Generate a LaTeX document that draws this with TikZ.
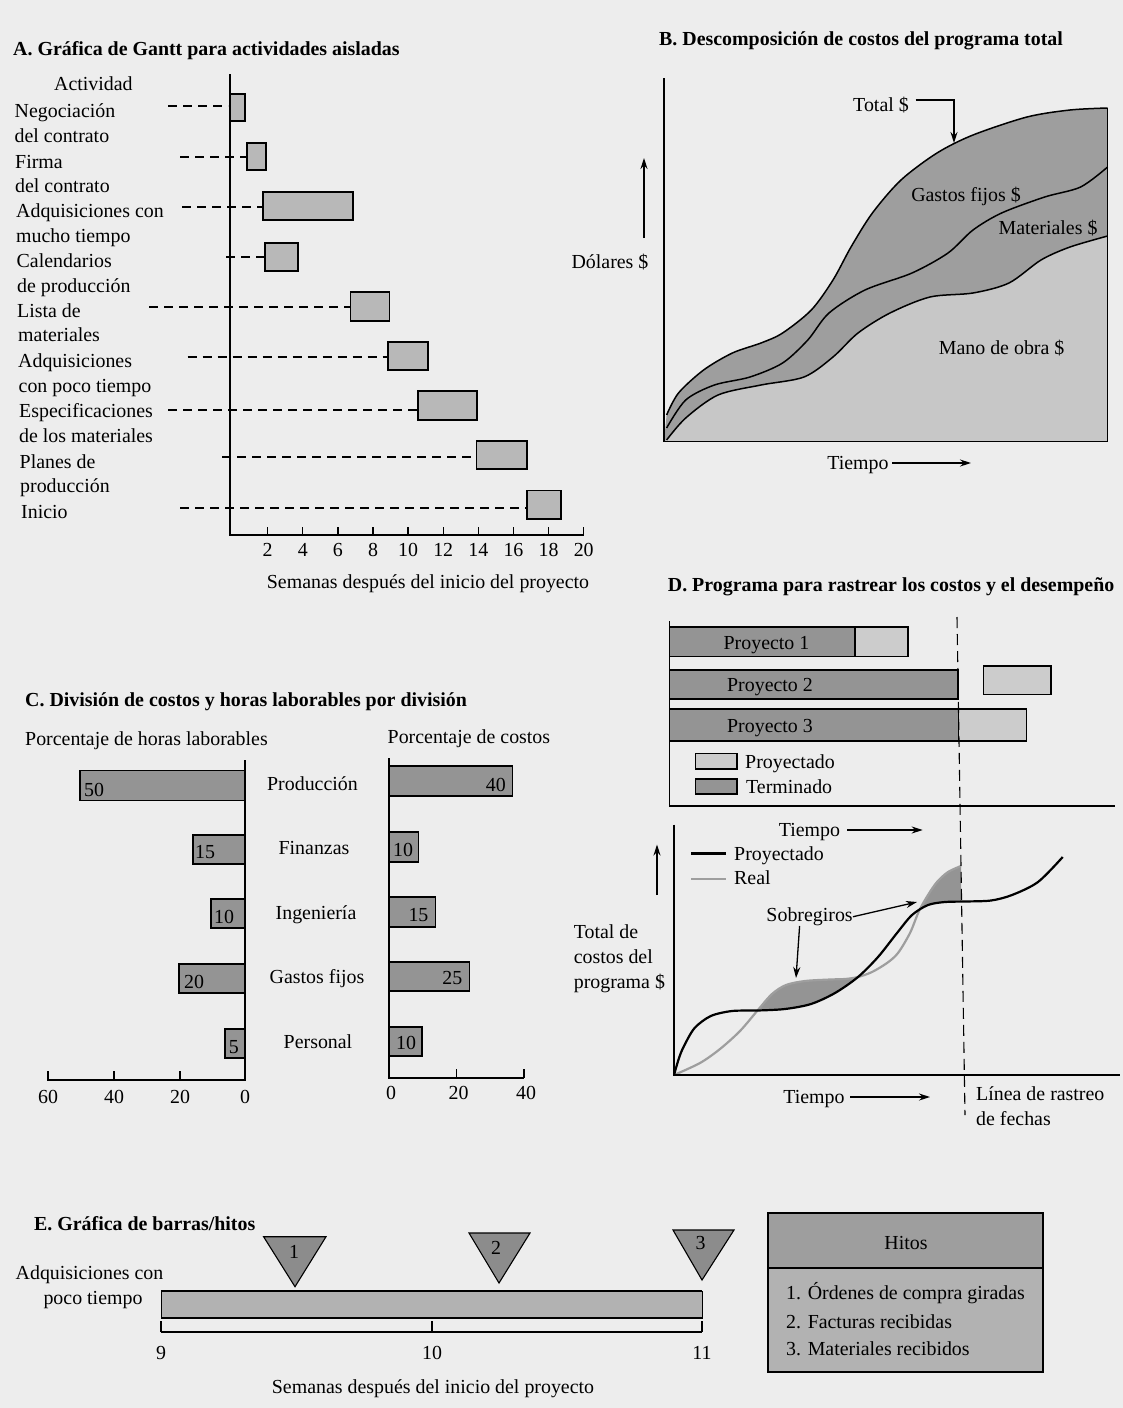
\documentclass[tikz,border=0pt]{standalone}
\usepackage{fontspec}
\setmainfont{Liberation Serif}
\usetikzlibrary{arrows.meta}
\definecolor{bgc}{gray}{0.93}
\definecolor{barA}{gray}{0.72}
\definecolor{barC}{gray}{0.58}
\definecolor{darkB}{gray}{0.62}
\definecolor{lightB}{gray}{0.78}
\definecolor{termD}{gray}{0.58}
\definecolor{projD}{gray}{0.80}
\definecolor{realD}{gray}{0.62}
\definecolor{shadeD}{gray}{0.58}
\definecolor{barE}{gray}{0.70}
\definecolor{triE}{gray}{0.55}
\definecolor{hitTop}{gray}{0.62}
\definecolor{hitBot}{gray}{0.70}
\begin{document}
\begin{tikzpicture}[x=1pt,y=-1pt,
  font=\fontsize{19.9}{23}\selectfont,
  every node/.style={inner sep=0pt},
  lb/.style={anchor=base west},
  cb/.style={anchor=base},
  rb/.style={anchor=base east},
  ttl/.style={anchor=base west,font=\fontsize{19.9}{23}\selectfont\bfseries},
  axis/.style={line width=1.3pt},
  ganttbar/.style={draw=black,line width=1.1pt,fill=barA},
  dashline/.style={line width=1.2pt,dash pattern=on 9pt off 6pt},
  cbar/.style={draw=black,line width=1.1pt,fill=barC},
  arr/.style={line width=1.3pt,-{Stealth[length=11pt,width=7pt]}},
  curveB/.style={line width=1.5pt},
  termbox/.style={draw=black,line width=1.1pt,fill=termD},
  projbox/.style={draw=black,line width=1.1pt,fill=projD},
]
\fill[bgc] (0,0) rectangle (1123,1408);
\useasboundingbox (0,0) rectangle (1123,1408);

% ================= Panel A =================
\node[ttl] (tA) at (13,55) {A. Gráfica de Gantt para actividades aisladas};
\node[lb] (act) at (54,90.5) {Actividad};
\foreach \x/\y/\t [count=\i] in {14.5/110.7/Negociación, 14.5/136/del contrato, 15/161.6/Firma, 15/186/del contrato, 16/210.7/Adquisiciones con, 16/236/mucho tiempo, 16.5/261/Calendarios, 17/286/de producción, 17/311/Lista de, 18/335/materiales, 18/361/Adquisiciones, 18.5/385.5/con poco tiempo, 19/411/Especificaciones, 19/435.6/de los materiales, 19.5/461.5/Planes de, 20/486/producción, 21/511.6/Inicio}
  \node[lb] (la\i) at (\x,\y+6.5) {\t};

\draw[dashline] (168,106) -- (228,106);
\draw[dashline] (180,157) -- (247,157);
\draw[dashline] (182,207) -- (263,207);
\draw[dashline] (226,257) -- (265,257);
\draw[dashline] (149,307) -- (350,307);
\draw[dashline] (187.5,357) -- (388,357);
\draw[dashline] (168,410) -- (418,410);
\draw[dashline] (222,457) -- (476,457);
\draw[dashline] (180,508) -- (527,508);

\draw[ganttbar] (230,94) rectangle (245,121);
\draw[ganttbar] (247,143) rectangle (266,170);
\draw[ganttbar] (263,192) rectangle (353,220);
\draw[ganttbar] (265,243) rectangle (298,271);
\draw[ganttbar] (350.5,292) rectangle (389.5,321);
\draw[ganttbar] (388,342) rectangle (428,370);
\draw[ganttbar] (418,391) rectangle (477,420);
\draw[ganttbar] (476.5,441) rectangle (527,469);
\draw[ganttbar] (527,490.5) rectangle (561,519);

\draw[axis] (230,74) -- (230,535) -- (584,535);
\foreach \w in {2,4,...,20} {
  \draw[axis] (232.5+17.56*\w,535) -- (232.5+17.56*\w,527);
  \node[cb] (tkA\w) at (232.5+17.56*\w,556.5) {\w};
}
\node[cb] (xlA) at (428,588.5) {Semanas después del inicio del proyecto};

% ================= Panel B =================
\node[ttl] (tB) at (659,45) {B. Descomposición de costos del programa total};
\fill[darkB] (664,441.7) -- plot[smooth] coordinates {(666.6,415) (678.5,393) (703.6,370) (732.4,353) (761,343) (782.6,333) (811.3,310) (833,280) (851,247) (872.4,213) (901,180) (937,153) (973,135) (1027,117) (1070,110) (1107.6,108)} -- (1107.6,441.7) -- cycle;
\fill[lightB] (664,441.7) -- plot[smooth] coordinates {(666.6,440) (685.7,418) (718,395) (761,385) (804,377) (833,357) (858,333) (890,313) (930,297) (973,293) (1009,283) (1041,260) (1070,247) (1107.6,236)} -- (1107.6,441.7) -- cycle;
\draw[curveB] plot[smooth] coordinates {(666.6,415) (678.5,393) (703.6,370) (732.4,353) (761,343) (782.6,333) (811.3,310) (833,280) (851,247) (872.4,213) (901,180) (937,153) (973,135) (1027,117) (1070,110) (1107.6,108)};
\draw[curveB] plot[smooth] coordinates {(666.6,428) (685.7,400) (714.4,385) (750,377) (782.6,363) (807.8,340) (829,313) (865,290) (912,273) (948,253) (973,230) (1001.6,213) (1044.7,197) (1080.6,187) (1107.6,167)};
\draw[curveB] plot[smooth] coordinates {(666.6,440) (685.7,418) (718,395) (761,385) (804,377) (833,357) (858,333) (890,313) (930,297) (973,293) (1009,283) (1041,260) (1070,247) (1107.6,236)};
\draw[axis] (664,78) -- (664,441.7) -- (1107.6,441.7) -- (1107.6,108);

\node[cb] (totB) at (881,111.5) {Total \$};
\coordinate (totS) at (915.5,100);
\coordinate (totT) at (954,143);
\draw[arr] (totS) -| (totT);
\node[cb] (gfB) at (966,201.5) {Gastos fijos \$};
\node[cb] (matB) at (1048,234.5) {Materiales \$};
\node[cb] (moB) at (1001.6,354.5) {Mano de obra \$};
\node[cb] (dolB) at (610,268.5) {Dólares \$};
\coordinate (dolA1) at (644,238);
\coordinate (dolA2) at (644,158);
\draw[arr] (dolA1) -- (dolA2);
\node[cb] (tiB) at (858,469.5) {Tiempo};
\coordinate (tiB1) at (892,463);
\coordinate (tiB2) at (971,463);
\draw[arr] (tiB1) -- (tiB2);

% ================= Panel C =================
\node[ttl] (tC) at (25,706.5) {C. División de costos y horas laborables por división};
\node[lb] (phl) at (25,745.5) {Porcentaje de horas laborables};
\node[lb] (pco) at (387.5,743.5) {Porcentaje de costos};

\draw[cbar] (80,770.7) rectangle (245,800.7);
\draw[cbar] (193,835) rectangle (245,864);
\draw[cbar] (211,899) rectangle (245,928);
\draw[cbar] (179,964) rectangle (245,993);
\draw[cbar] (225,1029) rectangle (245,1058);
\draw[axis] (245,760) -- (245,1080) -- (47,1080);
\foreach \xx/\lab in {48/60,114/40,180/20,245/0} {
  \draw[axis] (\xx,1080) -- (\xx,1071);
  \node[cb] (tkCl\lab) at (\xx,1103.5) {\lab};
}
\node[lb] (nl1) at (84,796.5) {50};
\node[lb] (nl2) at (195,858.5) {15};
\node[lb] (nl3) at (214,923.5) {10};
\node[lb] (nl4) at (184,988.5) {20};
\node[lb] (nl5) at (228.6,1053.5) {5};

\draw[cbar] (389,766) rectangle (512.5,796);
\draw[cbar] (389,832) rectangle (418.6,862);
\draw[cbar] (389,897) rectangle (435.7,927);
\draw[cbar] (389,962) rectangle (469.6,991);
\draw[cbar] (389,1027) rectangle (422,1056);
\draw[axis] (389,758) -- (389,1078) -- (524,1078);
\foreach \xx/\lab in {389/0,456.5/20,524/40} {
  \draw[axis] (\xx,1078) -- (\xx,1069);
  \node[cb] (tkCr\lab) at (\xx+2,1099.5) {\lab};
}
\node[rb] (nr1) at (506,791.5) {40};
\node[lb] (nr2) at (393,856.5) {10};
\node[rb] (nr3) at (428.6,921.5) {15};
\node[rb] (nr4) at (462.5,984.5) {25};
\node[lb] (nr5) at (396,1049.5) {10};

\node[cb] (dv1) at (312.5,790.5) {Producción};
\node[cb] (dv2) at (314,854.5) {Finanzas};
\node[cb] (dv3) at (316,919.5) {Ingeniería};
\node[cb] (dv4) at (317,983.5) {Gastos fijos};
\node[cb] (dv5) at (318,1048.5) {Personal};

% ================= Panel D =================
\node[ttl] (tD) at (667.7,591) {D. Programa para rastrear los costos y el desempeño};
\draw[termbox] (669.5,627) rectangle (855,656.5);
\draw[projbox] (855,627) rectangle (908,656.5);
\draw[termbox] (669.5,670) rectangle (958,699);
\draw[projbox] (983.7,666) rectangle (1051,694.7);
\draw[termbox] (669.5,709) rectangle (958.6,741);
\draw[projbox] (958.6,709) rectangle (1026.8,741);
\node[cb] (p1) at (766.5,649) {Proyecto 1};
\node[cb] (p2) at (770,691) {Proyecto 2};
\node[cb] (p3) at (770,732.5) {Proyecto 3};
\draw[projbox] (695.7,753.6) rectangle (737,769);
\draw[termbox] (695.7,779) rectangle (737,794);
\node[lb] (lgP) at (745,768.5) {Proyectado};
\node[lb] (lgT) at (746,793.5) {Terminado};
\draw[axis] (669.5,621) -- (669.5,806) -- (1115,806);

\node[cb] (tiD1) at (809.5,836.5) {Tiempo};
\coordinate (tiD1a) at (847,830);
\coordinate (tiD1b) at (922.7,830);
\draw[arr] (tiD1a) -- (tiD1b);

\begin{scope}
\clip (660,1075) -- plot[smooth] coordinates {(674,1075) (679,1058) (684,1046) (694.6,1028) (710.8,1016) (732,1011) (757.5,1010.5) (785,1009) (811,1004) (835,993) (858,977) (878,957) (897,933) (912,915) (928,905) (945,902) (965,901.5) (991,900.5) (1012,895) (1038,882) (1062.7,857)} -- (1070,857) -- (1070,800) -- (660,800) -- cycle;
\fill[shadeD] (674,1075) -- plot[smooth] coordinates {(674,1075) (700,1063) (720,1049) (740,1031) (757.5,1010.5) (772,994) (786,985) (805,981) (830,979.5) (845,979) (858,977) (872,972) (887,963) (898,953) (910,933) (919,911) (928,895) (937,882) (948,872) (961,866)} -- (961,1075) -- cycle;
\end{scope}
\draw[line width=2.2pt,realD] plot[smooth] coordinates {(674,1075) (700,1063) (720,1049) (740,1031) (757.5,1010.5) (772,994) (786,985) (805,981) (830,979.5) (845,979) (858,977) (872,972) (887,963) (898,953) (910,933) (919,911) (928,895) (937,882) (948,872) (961,866)};
\draw[line width=2.2pt] plot[smooth] coordinates {(674,1075) (679,1058) (684,1046) (694.6,1028) (710.8,1016) (732,1011) (757.5,1010.5) (785,1009) (811,1004) (835,993) (858,977) (878,957) (897,933) (912,915) (928,905) (945,902) (965,901.5) (991,900.5) (1012,895) (1038,882) (1062.7,857)};

\coordinate (trk1) at (957,617);
\coordinate (trk2) at (965,1115);
\draw[line width=1.1pt,dash pattern=on 11pt off 6pt] (trk1) -- (trk2);
\draw[axis] (674,824.5) -- (674,1075) -- (1120,1075);

\coordinate (upD1) at (657,895);
\coordinate (upD2) at (657,844.5);
\draw[arr] (upD1) -- (upD2);
\coordinate (lgl1) at (691,853.5);
\coordinate (lgl2) at (726,853.5);
\draw[line width=2.2pt] (lgl1) -- (lgl2);
\coordinate (lgl3) at (691,879);
\coordinate (lgl4) at (726,879);
\draw[line width=2.2pt,realD] (lgl3) -- (lgl4);
\node[lb] (lgPr) at (734,860) {Proyectado};
\node[lb] (lgRe) at (734,884.5) {Real};
\node[lb] (tc1) at (573.6,938) {Total de};
\node[lb] (tc2) at (573.6,963.5) {costos del};
\node[lb] (tc3) at (573.6,988.5) {programa \$};

\node[cb] (sob) at (809.6,921.5) {Sobregiros};
\coordinate (ov1) at (917,902);
\coordinate (ov2) at (796,978);
\draw[arr] (sob.east) -- (ov1);
\draw[arr] ([xshift=-10pt]sob.south) -- (ov2);

\node[cb] (tiD2) at (814,1103.5) {Tiempo};
\coordinate (tiD2a) at (850,1097);
\coordinate (tiD2b) at (930,1097);
\draw[arr] (tiD2a) -- (tiD2b);
\node[lb] (lr1) at (976,1100) {Línea de rastreo};
\node[lb] (lr2) at (976,1125.5) {de fechas};

% ================= Panel E =================
\node[ttl] (tE) at (34,1230) {E. Gráfica de barras/hitos};
\node[cb] (aq1) at (89.5,1279.5) {Adquisiciones con};
\node[cb] (aq2) at (93,1304.5) {poco tiempo};

\fill[barE] (161,1291) rectangle (702,1318);
\draw[line width=0.9pt] (161,1291) rectangle (702,1318);
\draw[line width=2.2pt] (161,1291) -- (702,1291);
\draw[line width=2.2pt] (161,1318) -- (702,1318);

\draw[line width=1.1pt] (161,1332) -- (702,1332);
\foreach \xx/\lab in {161/9,432/10,702/11} {
  \draw[line width=1.1pt] (\xx,1332) -- (\xx,1321);
  \node[cb] (tkE\lab) at (\xx,1359) {\lab};
}
\node[cb] (xlE) at (433,1393.5) {Semanas después del inicio del proyecto};

\draw[line width=1.1pt,fill=triE] (263.6,1236.7) -- (326,1236.7) -- (295,1286.7) -- cycle;
\draw[line width=1.1pt,fill=triE] (469,1233) -- (530,1233) -- (499,1283) -- cycle;
\draw[line width=1.1pt,fill=triE] (673,1230) -- (734,1230) -- (702,1280) -- cycle;
\node[cb] (m1) at (294,1258) {1};
\node[cb] (m2) at (496,1254.5) {2};
\node[cb] (m3) at (700.6,1249.5) {3};

\fill[hitTop] (768,1213) rectangle (1043,1268);
\fill[hitBot] (768,1268) rectangle (1043,1372);
\draw[line width=1.3pt] (768,1213) rectangle (1043,1372);
\draw[line width=1.3pt] (768,1268) -- (1043,1268);
\node[cb] (hit) at (906,1249.5) {Hitos};
\node[lb] (h1) at (786,1299.5) {1. Órdenes de compra giradas};
\node[lb] (h2) at (786,1328.5) {2. Facturas recibidas};
\node[lb] (h3) at (786,1355) {3. Materiales recibidos};
\end{tikzpicture}
\end{document}
